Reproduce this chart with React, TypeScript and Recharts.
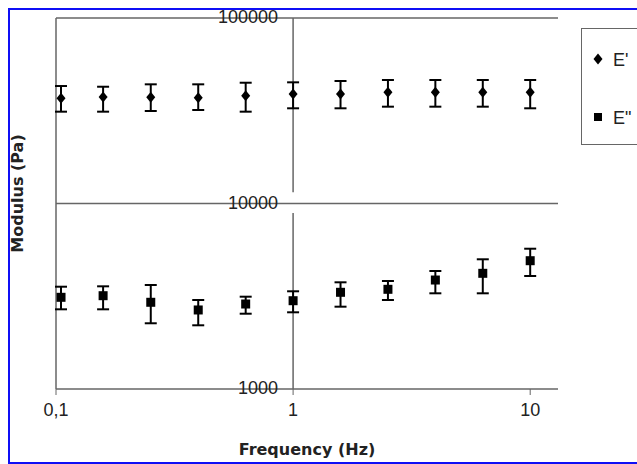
import { ScatterChart, Scatter, XAxis, YAxis, ErrorBar, ReferenceLine, Legend, Label } from 'recharts';

// frequency sweep (Hz)
const frequency = [0.105, 0.158, 0.251, 0.398, 0.631, 1, 1.585, 2.512, 3.981, 6.31, 10];

// E' storage modulus (Pa): mean, upper and lower end of the error bar
const storageMean = [36920, 37520, 37380, 37190, 38120, 38940, 38940, 39770, 39770, 39770, 39770];
const storageHigh = [42980, 42610, 43900, 43900, 44780, 45000, 45750, 46330, 46330, 46330, 46330];
const storageLow = [31260, 31260, 31530, 31920, 31260, 32600, 32600, 33260, 33260, 33260, 32600];

// E'' loss modulus (Pa)
const lossMean = [3121, 3184, 2934, 2667, 2872, 2992, 3321, 3447, 3868, 4204, 4916];
const lossHigh = [3560, 3577, 3636, 3018, 3145, 3363, 3760, 3821, 4326, 5003, 5705];
const lossLow = [2689, 2689, 2261, 2205, 2546, 2591, 2778, 3018, 3280, 3280, 4066];

const xTicks = [0.1, 1, 10];
const yTicks = [1000, 10000, 100000];

const AXIS = '#666';
const TEXT = '#222';
const BLUE = '#0f0ff5';
const SANS = '"Liberation Sans", Arial, sans-serif';
const BOLD = '"DejaVu Sans", sans-serif';

const toRows = (mean: number[], high: number[], low: number[]) =>
  frequency.map((f, i) => ({ f, v: mean[i], err: [mean[i] - low[i], high[i] - mean[i]] }));

const storageData = toRows(storageMean, storageHigh, storageLow);
const lossData = toRows(lossMean, lossHigh, lossLow);
const yLabelData = yTicks.map((v) => ({ f: 1, v }));

function Diamond({ cx, cy }: any) {
  return <polygon points={`${cx},${cy - 5.5} ${cx + 4.5},${cy} ${cx},${cy + 5.5} ${cx - 4.5},${cy}`} fill="#000" />;
}

function Square({ cx, cy }: any) {
  return <rect x={cx - 4.5} y={cy - 4.5} width={9} height={9} fill="#000" />;
}

/** Y tick labels sit left of the axis that crosses at 1 Hz. */
function YTickLabel({ cx, cy, payload }: any) {
  return (
    <text x={cx - 15} y={cy + 5} textAnchor="end" fontSize={18} fontFamily={SANS} fill={TEXT}>
      {payload.v}
    </text>
  );
}

function LegendBox() {
  return (
    <div style={{ width: 80, height: 117, border: `1.5px solid ${AXIS}`, boxSizing: 'border-box', background: '#fff' }}>
      <svg width={78} height={114} style={{ display: 'block' }}>
        <Diamond cx={16} cy={30} />
        <text x={31} y={37} fontSize={18} fontFamily={SANS} fill={TEXT}>E'</text>
        <rect x={12} y={84} width={8} height={8} fill="#000" />
        <text x={31} y={95} fontSize={18} fontFamily={SANS} fill={TEXT}>E"</text>
      </svg>
    </div>
  );
}

export default function App() {
  return (
    <div style={{ position: 'fixed', left: 0, top: 0, width: 637, height: 464, overflow: 'hidden', background: '#fff' }}>
      <div
        style={{
          position: 'absolute',
          left: 8,
          top: 8,
          width: 640,
          height: 456,
          boxSizing: 'border-box',
          borderTop: `2px solid ${BLUE}`,
          borderLeft: `2px solid ${BLUE}`,
          borderBottom: `2px solid ${BLUE}`,
        }}
      >
        <ScatterChart width={638} height={452} margin={{ top: 8, right: 90, bottom: 7, left: 0 }}>
          <XAxis
            type="number"
            dataKey="f"
            scale="log"
            domain={[0.1, 13.1]}
            ticks={xTicks}
            interval={0}
            tickFormatter={(v: number) => (v === 0.1 ? '0,1' : String(v))}
            axisLine={{ stroke: AXIS, strokeWidth: 1.5 }}
            tickLine={{ stroke: AXIS }}
            tickSize={6}
            tickMargin={8}
            tick={{ fill: TEXT, fontSize: 18, fontFamily: SANS }}
            height={66}
          >
            <Label
              value="Frequency (Hz)"
              position="insideBottom"
              offset={0}
              style={{ fontFamily: BOLD, fontWeight: 700, fontSize: 16, fill: TEXT }}
            />
          </XAxis>
          <YAxis
            type="number"
            dataKey="v"
            scale="log"
            domain={[1000, 100000]}
            ticks={yTicks}
            width={46}
            tick={false}
            axisLine={false}
            tickLine={false}
            label={(p: any) => {
              const vb = p.viewBox;
              const x = vb.x + 13;
              const y = vb.y + vb.height / 2 - 10;
              return (
                <text
                  x={x}
                  y={y}
                  transform={`rotate(-90 ${x} ${y})`}
                  textAnchor="middle"
                  fontFamily={BOLD}
                  fontWeight={700}
                  fontSize={16}
                  fill={TEXT}
                >
                  Modulus (Pa)
                </text>
              );
            }}
          />
          <ReferenceLine y={100000} stroke={AXIS} strokeWidth={1.5} />
          <ReferenceLine y={10000} stroke={AXIS} strokeWidth={1.5} />
          <ReferenceLine x={0.1} stroke={AXIS} strokeWidth={1.5} />
          <ReferenceLine segment={[{ x: 1, y: 100000 }, { x: 1, y: 11500 }]} stroke={AXIS} strokeWidth={1.5} />
          <ReferenceLine segment={[{ x: 1, y: 8900 }, { x: 1, y: 1000 }]} stroke={AXIS} strokeWidth={1.5} />
          <Legend
            layout="vertical"
            align="center"
            verticalAlign="middle"
            wrapperStyle={{ left: 571, top: 18, width: 80, height: 117 }}
            content={() => <LegendBox />}
          />
          <Scatter name="E'" data={storageData} dataKey="v" shape={Diamond} isAnimationActive={false}>
            <ErrorBar dataKey="err" direction="y" width={6} stroke="#000" strokeWidth={2} />
          </Scatter>
          <Scatter name={'E"'} data={lossData} dataKey="v" shape={Square} isAnimationActive={false}>
            <ErrorBar dataKey="err" direction="y" width={6} stroke="#000" strokeWidth={2} />
          </Scatter>
          <Scatter data={yLabelData} dataKey="v" shape={YTickLabel} legendType="none" isAnimationActive={false} />
        </ScatterChart>
      </div>
    </div>
  );
}
